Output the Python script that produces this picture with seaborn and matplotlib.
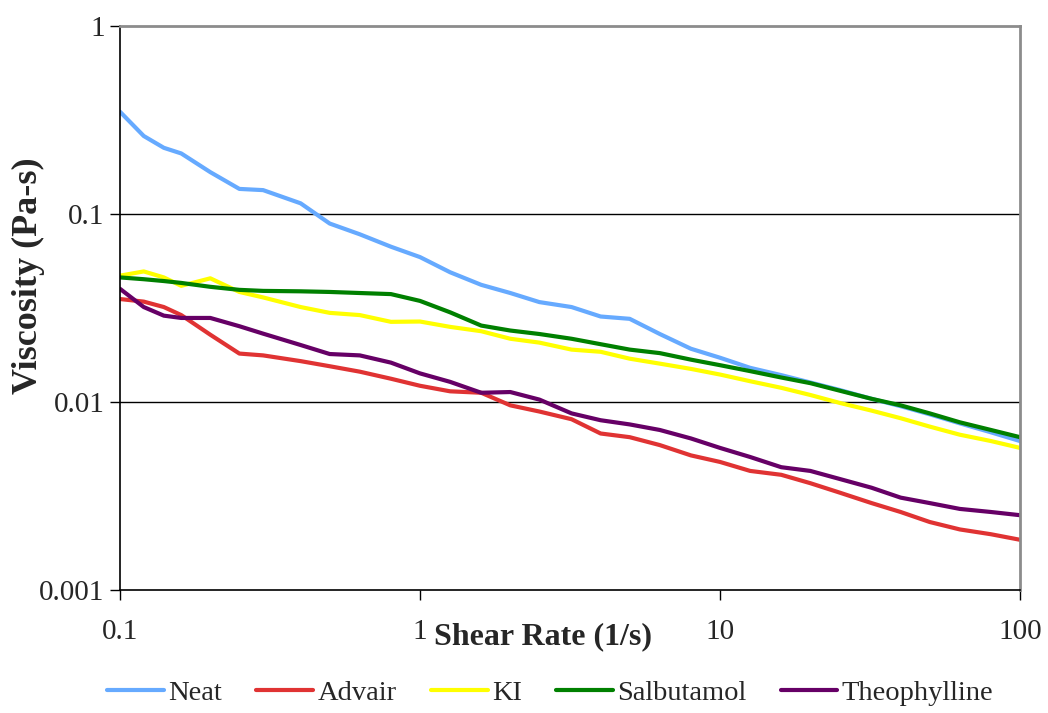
import matplotlib
matplotlib.use("Agg")
import matplotlib.pyplot as plt
import numpy as np
import pandas as pd
import seaborn as sns

# Shear rate grid (1/s) shared by all samples.
shear_rate = [0.1, 0.12, 0.14, 0.16, 0.2, 0.25, 0.3, 0.4, 0.5, 0.63, 0.8,
              1.0, 1.26, 1.6, 2.0, 2.5, 3.2, 4.0, 5.0, 6.3, 8.0,
              10, 12.6, 16, 20, 25, 32, 40, 50, 63, 80, 100]

# Viscosity (Pa-s).
neat = [0.35, 0.26, 0.225, 0.21, 0.167, 0.136, 0.134, 0.114, 0.089, 0.078, 0.067,
        0.059, 0.049, 0.042, 0.038, 0.034, 0.032, 0.0285, 0.0277, 0.023, 0.0192,
        0.0172, 0.0152, 0.0139, 0.0127, 0.0116, 0.0104, 0.0095, 0.0086, 0.0077, 0.0069, 0.0062]
advair = [0.0353, 0.0342, 0.032, 0.029, 0.0228, 0.0181, 0.0177, 0.0165, 0.0155, 0.0145, 0.0133,
          0.0122, 0.0114, 0.0112, 0.0096, 0.0089, 0.0081, 0.0068, 0.0065, 0.0059, 0.0052,
          0.0048, 0.0043, 0.0041, 0.0037, 0.0033, 0.0029, 0.0026, 0.0023, 0.0021, 0.00198, 0.00185]
ki = [0.047, 0.0495, 0.046, 0.0415, 0.0455, 0.0385, 0.036, 0.032, 0.0298, 0.029, 0.0267,
      0.0268, 0.0251, 0.0238, 0.0217, 0.0207, 0.019, 0.0185, 0.017, 0.016, 0.015,
      0.014, 0.0129, 0.0119, 0.0109, 0.0099, 0.009, 0.0082, 0.0074, 0.0067, 0.0062, 0.0057]
salbutamol = [0.046, 0.045, 0.044, 0.043, 0.041, 0.0395, 0.039, 0.0388, 0.0385, 0.038, 0.0375,
              0.0345, 0.03, 0.0255, 0.024, 0.023, 0.0217, 0.0203, 0.019, 0.0182, 0.0168,
              0.0157, 0.0146, 0.0135, 0.0126, 0.0115, 0.0104, 0.0096, 0.0087, 0.0078, 0.0071, 0.0065]
theophylline = [0.04, 0.032, 0.0288, 0.028, 0.028, 0.0253, 0.0231, 0.0201, 0.018, 0.0177, 0.0162,
                0.0142, 0.0128, 0.0112, 0.0113, 0.0103, 0.0087, 0.008, 0.0076, 0.0071, 0.0064,
                0.0057, 0.0051, 0.0045, 0.0043, 0.0039, 0.0035, 0.0031, 0.0029, 0.0027, 0.0026, 0.0025]

samples = ["Neat", "Advair", "KI", "Salbutamol", "Theophylline"]
colors = ["#66AAFF", "#E03333", "#FFFF00", "#008000", "#660066"]

# Build a long table for seaborn.
frames = []
for name, vals in zip(samples, [neat, advair, ki, salbutamol, theophylline]):
    frames.append(pd.DataFrame({"rate": shear_rate, "visc": vals, "sample": name}))
df = pd.concat(frames, ignore_index=True)

sns.set_style("white")
plt.rcParams["font.family"] = ["Liberation Serif", "DejaVu Serif"]

fig = plt.figure(figsize=(10.48, 7.13), dpi=100)
ax = fig.add_axes([0.1145, 0.1725, 0.8588, 0.791])

sns.lineplot(data=df, x="rate", y="visc", hue="sample", hue_order=samples,
             palette=colors, linewidth=3, ax=ax, legend=False)

ax.set_xscale("log")
ax.set_yscale("log")
ax.set_xlim(0.1, 100)
ax.set_ylim(0.001, 1)
ax.set_xticks([0.1, 1, 10, 100])
ax.set_xticklabels(["0.1", "1", "10", "100"])
ax.set_yticks([0.001, 0.01, 0.1, 1])
ax.set_yticklabels(["0.001", "0.01", "0.1", "1"])
ax.minorticks_off()

# Horizontal grid only.
for v in [0.01, 0.1]:
    ax.axhline(v, color="black", linewidth=1, zorder=0)

ax.tick_params(axis="both", labelsize=21, direction="out", length=7, width=1,
               color="black", left=True, bottom=True)
ax.tick_params(axis="x", pad=14)
ax.tick_params(axis="y", pad=4)

for side in ["left", "bottom"]:
    ax.spines[side].set_color("black")
    ax.spines[side].set_linewidth(1.2)
for side in ["top", "right"]:
    ax.spines[side].set_color("#8c8c8c")
    ax.spines[side].set_linewidth(2)

ax.set_xlabel("Shear Rate (1/s)", fontsize=23, fontweight="bold")
ax.xaxis.set_label_coords(0.47, -0.082)
ax.xaxis.label.set_va("center")
ax.set_ylabel("Viscosity (Pa-s)", fontsize=26, fontweight="bold")
ax.yaxis.set_label_coords(-0.102, 0.558)
ax.yaxis.label.set_va("center")

handles = [plt.Line2D([], [], color=c, linewidth=3) for c in colors]
fig.legend(handles, samples, loc="center", bbox_to_anchor=(0.525, 0.028), ncol=5,
           frameon=False, fontsize=20.5, handlelength=2.0, handletextpad=0.15,
           columnspacing=1.2)

fig.savefig("out.png", dpi=100)
